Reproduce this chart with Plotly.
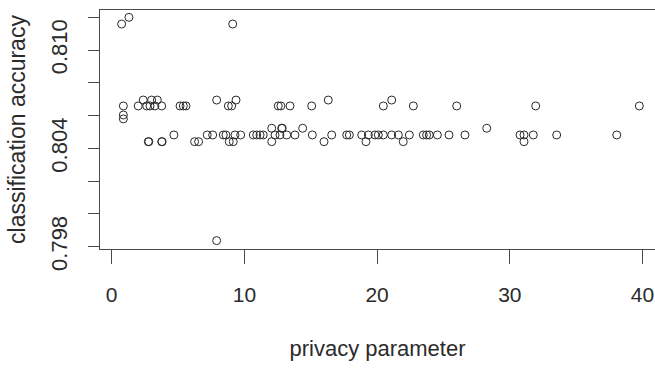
import plotly.graph_objects as go

# privacy parameter (x) and classification accuracy (y)
privacy = [
    0.75, 1.30, 9.12, 7.91,
    0.88, 0.88, 0.88, 2.00, 2.38, 2.64, 2.89, 3.01, 3.26, 3.44, 3.77,
    5.15, 5.40, 5.60, 7.91, 8.79, 9.04, 9.37, 12.55, 12.75, 13.44, 15.07, 16.32,
    20.47, 21.10, 22.73, 26.00, 31.95, 39.76,
    2.76, 2.80, 3.77, 3.80, 4.69, 6.25, 6.55, 7.20, 7.61, 8.41, 8.61, 8.86, 9.16,
    9.29, 9.72, 10.67, 10.93, 11.18, 11.42, 12.06, 12.06, 12.31, 12.81, 12.85,
    12.68, 13.19, 13.81, 14.39, 15.12, 16.00, 16.58, 17.71, 17.91, 18.84, 19.16,
    19.34, 19.84, 20.09, 20.47, 21.10, 21.60, 21.97, 22.43, 23.48, 23.73, 23.93,
    24.54, 25.42, 26.62, 28.26, 30.77, 31.07, 31.07, 31.77, 33.53, 38.06,
]
accuracy = [
    0.81159, 0.81200, 0.81159, 0.79837,
    0.80659, 0.80604, 0.80580, 0.80659, 0.80695, 0.80659, 0.80659, 0.80695, 0.80659, 0.80695, 0.80659,
    0.80659, 0.80659, 0.80659, 0.80695, 0.80659, 0.80659, 0.80695, 0.80659, 0.80659, 0.80659, 0.80659, 0.80695,
    0.80659, 0.80695, 0.80659, 0.80659, 0.80659, 0.80659,
    0.80441, 0.80441, 0.80441, 0.80441, 0.80482, 0.80441, 0.80441, 0.80482, 0.80482, 0.80482, 0.80482, 0.80441, 0.80441,
    0.80482, 0.80482, 0.80482, 0.80482, 0.80482, 0.80482, 0.80523, 0.80441, 0.80482, 0.80523, 0.80523,
    0.80482, 0.80482, 0.80482, 0.80523, 0.80482, 0.80441, 0.80482, 0.80482, 0.80482, 0.80482, 0.80441,
    0.80482, 0.80482, 0.80482, 0.80482, 0.80482, 0.80482, 0.80441, 0.80482, 0.80482, 0.80482, 0.80482,
    0.80482, 0.80482, 0.80482, 0.80523, 0.80482, 0.80482, 0.80441, 0.80482, 0.80482, 0.80482,
]

x_ticks = [0, 10, 20, 30, 40]
y_ticks = [0.798, 0.800, 0.802, 0.804, 0.806, 0.808, 0.810, 0.812]
y_tick_text = ["0.798", "", "", "0.804", "", "", "0.810", ""]

TEXT = "#2b2b2b"
LINE = "#4a4a4a"
NARROW = "Liberation Sans Narrow, Arial Narrow, Liberation Sans, Arial, sans-serif"
REG = "Liberation Sans, Arial, sans-serif"

fig = go.Figure(
    go.Scatter(
        x=privacy, y=accuracy, mode="markers",
        marker=dict(symbol="circle-open", size=8, color="#2a2a2a", line=dict(width=1, color="#2a2a2a")),
        hoverinfo="x+y",
    )
)

fig.update_layout(
    width=655, height=371,
    margin=dict(l=100, r=0, t=10, b=122, pad=0),
    paper_bgcolor="white", plot_bgcolor="white",
    showlegend=False,
    xaxis=dict(
        range=[-0.88, 40.94], tickvals=x_ticks, ticktext=[str(t) for t in x_ticks],
        showgrid=False, zeroline=False, showline=True, mirror=True,
        linecolor=LINE, linewidth=1,
        ticks="outside", ticklen=14, tickcolor=LINE, tickwidth=1,
        tickfont=dict(family=NARROW, size=21, color=TEXT),
        ticklabelstandoff=13,
        title=dict(text="privacy parameter", font=dict(family=NARROW, size=22, color=TEXT), standoff=35),
        automargin=False,
    ),
    yaxis=dict(
        range=[0.79786, 0.812446], tickvals=y_ticks, ticktext=y_tick_text,
        showgrid=False, zeroline=False, showline=True, mirror=False,
        linecolor=LINE, linewidth=1,
        ticks="outside", ticklen=11, tickcolor=LINE, tickwidth=1,
        tickangle=-90,
        tickfont=dict(family=REG, size=22, color=TEXT),
        ticklabelstandoff=12,
        title=dict(text="classification accuracy", font=dict(family=REG, size=23, color=TEXT), standoff=15),
        automargin=False,
    ),
)

fig.write_html(
    "out.html",
    config={"displayModeBar": False},
    post_script="document.body.style.margin='0';",
)
